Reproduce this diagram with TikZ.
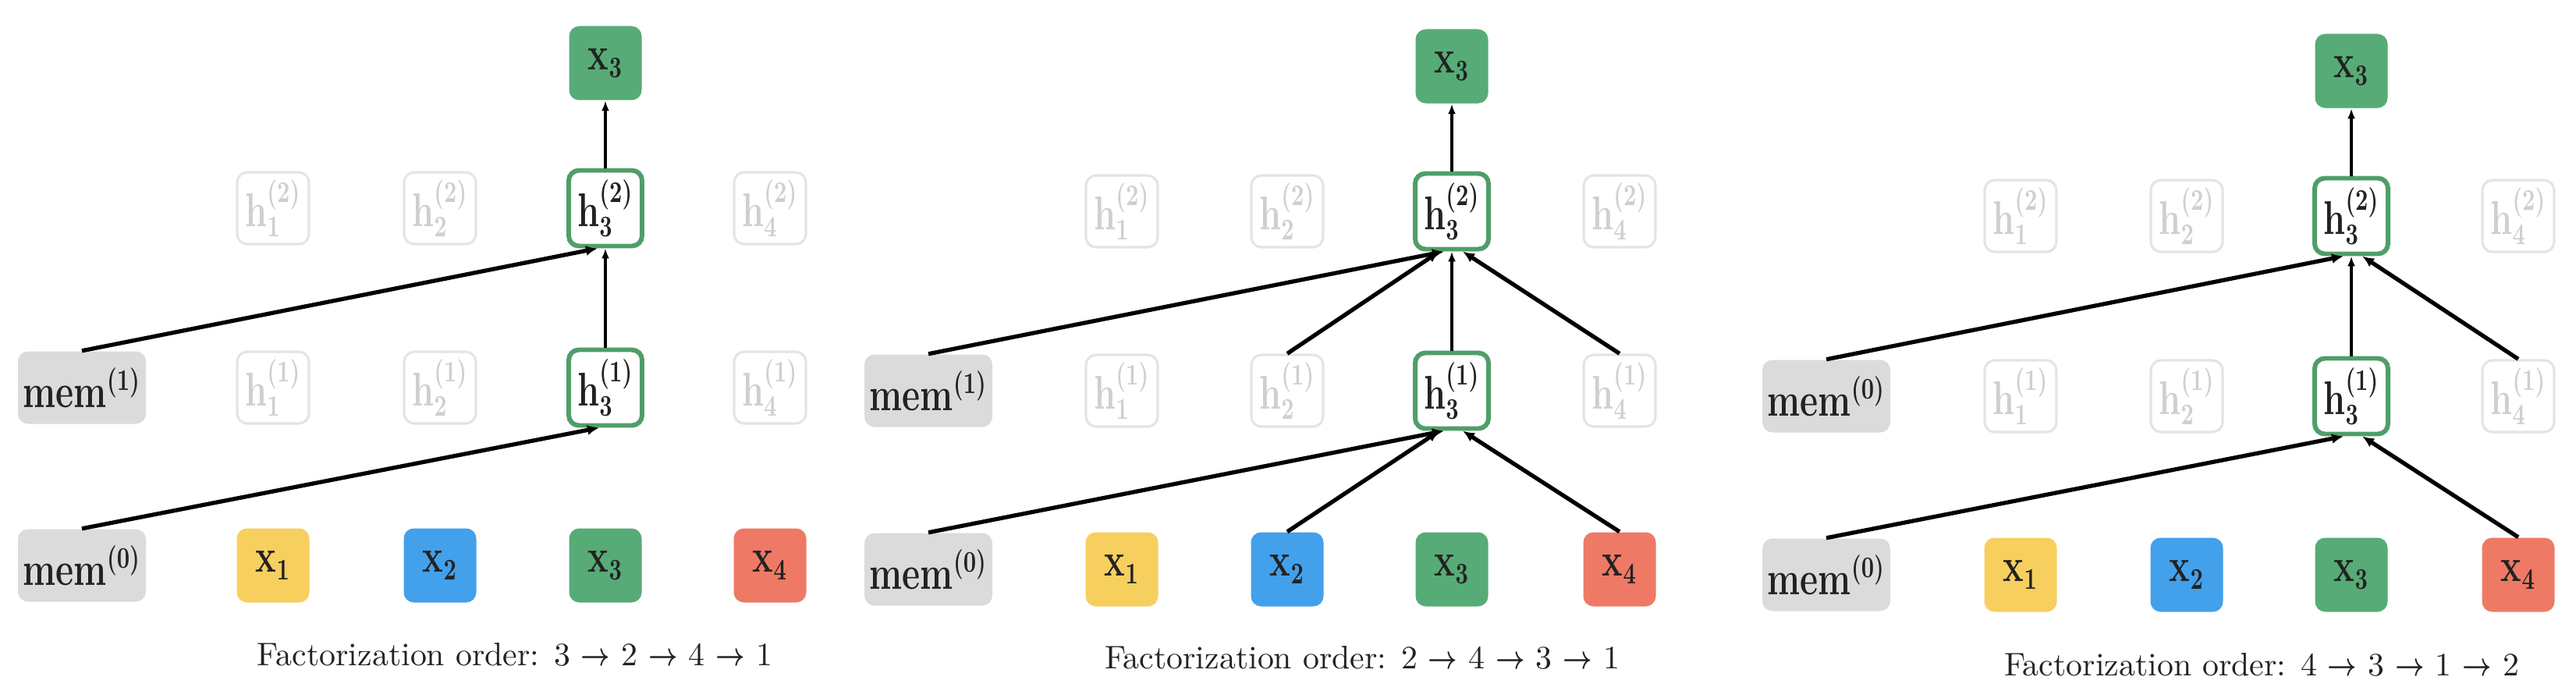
\documentclass[tikz,border=0pt]{standalone}
\usepackage{graphicx}
\usepackage{amsmath}
\usetikzlibrary{arrows.meta}
\definecolor{memgray}{HTML}{DBDBDB}
\definecolor{cyel}{HTML}{F7CF5F}
\definecolor{cblue}{HTML}{43A0EB}
\definecolor{cgreen}{HTML}{57AB76}
\definecolor{cred}{HTML}{EE7A65}
\definecolor{gborder}{HTML}{4F9E69}
\definecolor{faintline}{HTML}{E4E4E4}
\definecolor{fainttext}{HTML}{CFCFCF}
\definecolor{labelc}{HTML}{222222}
\newcommand\boxlabel[1]{\scalebox{0.74}[1]{\boldmath$#1$}}
\newcommand\ordarr{\scalebox{0.78}[1]{$\boldsymbol{\rightarrow}$}}
\newcommand\ordtext[1]{\resizebox{6.6cm}{!}{#1}}
\begin{document}
\begin{tikzpicture}[
  base/.style={rounded corners=0.13cm, inner sep=0pt, font=\fontsize{16}{19}\selectfont, text=labelc},
  tok/.style={base, minimum width=0.93cm, minimum height=0.95cm},
  memb/.style={base, fill=memgray, minimum width=1.64cm, minimum height=0.93cm},
  hfaint/.style={base, draw=faintline, line width=0.9pt, text=fainttext, minimum width=0.92cm, minimum height=0.92cm},
  hact/.style={base, draw=gborder, line width=1.7pt, fill=white, minimum width=0.94cm, minimum height=0.97cm},
  conn/.style={line width=1.5pt, -{Latex[length=0.15cm,width=0.13cm]}},
  vconn/.style={line width=1.2pt, -{Latex[length=0.13cm,width=0.10cm]}},
  captxt/.style={anchor=base, inner sep=0pt, text=labelc}
]
\useasboundingbox (0,0) rectangle (33.02,8.94);

% ---------------- Panel 1 ----------------
\node[memb] (a-m0) at (1.05,1.69) {\boxlabel{\mathbf{mem}^{(0)}}};
\node[memb] (a-m1) at (1.05,3.97) {\boxlabel{\mathbf{mem}^{(1)}}};
\node[tok,fill=cyel]   (a-x1) at (3.50,1.69) {\boxlabel{\mathbf{x}_1}};
\node[tok,fill=cblue]  (a-x2) at (5.64,1.69) {\boxlabel{\mathbf{x}_2}};
\node[tok,fill=cgreen] (a-x3) at (7.76,1.69) {\boxlabel{\mathbf{x}_3}};
\node[tok,fill=cred]   (a-x4) at (9.87,1.69) {\boxlabel{\mathbf{x}_4}};
\node[hfaint] (a-h11) at (3.50,3.97) {\boxlabel{\mathbf{h}_1^{(1)}}};
\node[hfaint] (a-h21) at (5.64,3.97) {\boxlabel{\mathbf{h}_2^{(1)}}};
\node[hact]   (a-h31) at (7.76,3.97) {\boxlabel{\mathbf{h}_3^{(1)}}};
\node[hfaint] (a-h41) at (9.87,3.97) {\boxlabel{\mathbf{h}_4^{(1)}}};
\node[hfaint] (a-h12) at (3.50,6.27) {\boxlabel{\mathbf{h}_1^{(2)}}};
\node[hfaint] (a-h22) at (5.64,6.27) {\boxlabel{\mathbf{h}_2^{(2)}}};
\node[hact]   (a-h32) at (7.76,6.27) {\boxlabel{\mathbf{h}_3^{(2)}}};
\node[hfaint] (a-h42) at (9.87,6.27) {\boxlabel{\mathbf{h}_4^{(2)}}};
\node[tok,fill=cgreen] (a-top) at (7.76,8.13) {\boxlabel{\mathbf{x}_3}};
\node[captxt] (a-cap) at (6.60,0.41) {\ordtext{Factorization order: 3 \ordarr{} 2 \ordarr{} 4 \ordarr{} 1}};
\draw[conn] (a-m0.north) -- ([xshift=-0.08cm]a-h31.south);
\draw[conn] (a-m1.north) -- ([xshift=-0.10cm]a-h32.south);
\draw[vconn] (a-h31.north) -- (a-h32.south);
\draw[vconn] (a-h32.north) -- (a-top.south);

% ---------------- Panel 2 ----------------
\node[memb] (b-m0) at (11.90,1.64) {\boxlabel{\mathbf{mem}^{(0)}}};
\node[memb] (b-m1) at (11.90,3.93) {\boxlabel{\mathbf{mem}^{(1)}}};
\node[tok,fill=cyel]   (b-x1) at (14.38,1.64) {\boxlabel{\mathbf{x}_1}};
\node[tok,fill=cblue]  (b-x2) at (16.50,1.64) {\boxlabel{\mathbf{x}_2}};
\node[tok,fill=cgreen] (b-x3) at (18.61,1.64) {\boxlabel{\mathbf{x}_3}};
\node[tok,fill=cred]   (b-x4) at (20.76,1.64) {\boxlabel{\mathbf{x}_4}};
\node[hfaint] (b-h11) at (14.38,3.93) {\boxlabel{\mathbf{h}_1^{(1)}}};
\node[hfaint] (b-h21) at (16.50,3.93) {\boxlabel{\mathbf{h}_2^{(1)}}};
\node[hact]   (b-h31) at (18.61,3.93) {\boxlabel{\mathbf{h}_3^{(1)}}};
\node[hfaint] (b-h41) at (20.76,3.93) {\boxlabel{\mathbf{h}_4^{(1)}}};
\node[hfaint] (b-h12) at (14.38,6.23) {\boxlabel{\mathbf{h}_1^{(2)}}};
\node[hfaint] (b-h22) at (16.50,6.23) {\boxlabel{\mathbf{h}_2^{(2)}}};
\node[hact]   (b-h32) at (18.61,6.23) {\boxlabel{\mathbf{h}_3^{(2)}}};
\node[hfaint] (b-h42) at (20.76,6.23) {\boxlabel{\mathbf{h}_4^{(2)}}};
\node[tok,fill=cgreen] (b-top) at (18.61,8.09) {\boxlabel{\mathbf{x}_3}};
\node[captxt] (b-cap) at (17.46,0.37) {\ordtext{Factorization order: 2 \ordarr{} 4 \ordarr{} 3 \ordarr{} 1}};
\draw[conn] (b-m0.north) -- ([xshift=-0.10cm]b-h31.south);
\draw[conn] (b-x2.north) -- ([xshift=-0.16cm]b-h31.south);
\draw[conn] (b-x4.north) -- ([xshift=0.14cm]b-h31.south);
\draw[conn] (b-m1.north) -- ([xshift=-0.10cm]b-h32.south);
\draw[conn] (b-h21.north) -- ([xshift=-0.16cm]b-h32.south);
\draw[conn] (b-h41.north) -- ([xshift=0.14cm]b-h32.south);
\draw[vconn] (b-h31.north) -- (b-h32.south);
\draw[vconn] (b-h32.north) -- (b-top.south);

% ---------------- Panel 3 ----------------
\node[memb] (c-m0) at (23.41,1.57) {\boxlabel{\mathbf{mem}^{(0)}}};
\node[memb] (c-m1) at (23.41,3.86) {\boxlabel{\mathbf{mem}^{(0)}}};
\node[tok,fill=cyel]   (c-x1) at (25.90,1.57) {\boxlabel{\mathbf{x}_1}};
\node[tok,fill=cblue]  (c-x2) at (28.03,1.57) {\boxlabel{\mathbf{x}_2}};
\node[tok,fill=cgreen] (c-x3) at (30.14,1.57) {\boxlabel{\mathbf{x}_3}};
\node[tok,fill=cred]   (c-x4) at (32.28,1.57) {\boxlabel{\mathbf{x}_4}};
\node[hfaint] (c-h11) at (25.90,3.86) {\boxlabel{\mathbf{h}_1^{(1)}}};
\node[hfaint] (c-h21) at (28.03,3.86) {\boxlabel{\mathbf{h}_2^{(1)}}};
\node[hact]   (c-h31) at (30.14,3.86) {\boxlabel{\mathbf{h}_3^{(1)}}};
\node[hfaint] (c-h41) at (32.28,3.86) {\boxlabel{\mathbf{h}_4^{(1)}}};
\node[hfaint] (c-h12) at (25.90,6.17) {\boxlabel{\mathbf{h}_1^{(2)}}};
\node[hfaint] (c-h22) at (28.03,6.17) {\boxlabel{\mathbf{h}_2^{(2)}}};
\node[hact]   (c-h32) at (30.14,6.17) {\boxlabel{\mathbf{h}_3^{(2)}}};
\node[hfaint] (c-h42) at (32.28,6.17) {\boxlabel{\mathbf{h}_4^{(2)}}};
\node[tok,fill=cgreen] (c-top) at (30.14,8.03) {\boxlabel{\mathbf{x}_3}};
\node[captxt] (c-cap) at (28.99,0.28) {\ordtext{Factorization order: 4 \ordarr{} 3 \ordarr{} 1 \ordarr{} 2}};
\draw[conn] (c-m0.north) -- ([xshift=-0.10cm]c-h31.south);
\draw[conn] (c-x4.north) -- ([xshift=0.14cm]c-h31.south);
\draw[conn] (c-m1.north) -- ([xshift=-0.10cm]c-h32.south);
\draw[conn] (c-h41.north) -- ([xshift=0.14cm]c-h32.south);
\draw[vconn] (c-h31.north) -- (c-h32.south);
\draw[vconn] (c-h32.north) -- (c-top.south);
\end{tikzpicture}
\end{document}
